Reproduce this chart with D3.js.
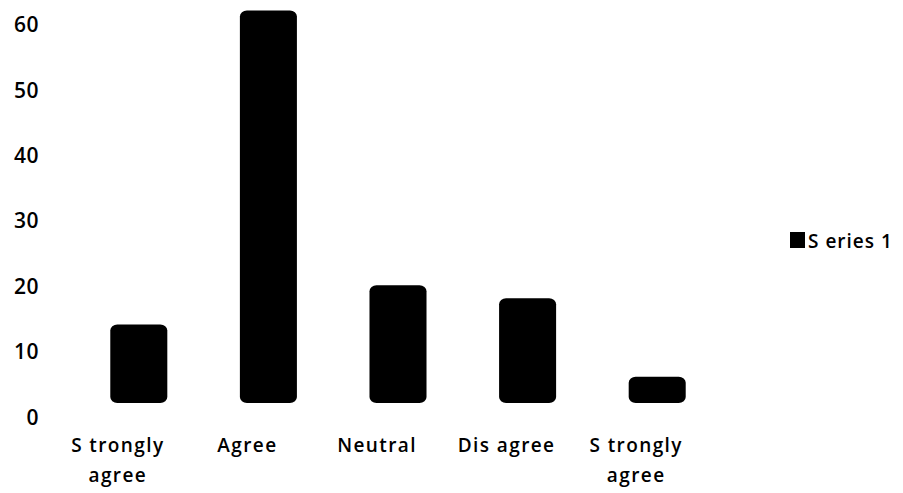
<!DOCTYPE html>
<html><head><meta charset="utf-8">
<script src="https://cdn.jsdelivr.net/npm/d3@7/dist/d3.min.js"></script>
<style>body{margin:0;background:#fff}svg{display:block}text{font-family:"Open Sans",sans-serif;fill:#000;font-weight:600}</style>
</head><body>
<svg id="c" width="903" height="493"></svg>
<script>
const categories = [["S trongly","agree"],["Agree"],["Neutral"],["Dis agree"],["S trongly","agree"]];
const values = [12, 60, 18, 16, 4];
const yTicks = [0, 10, 20, 30, 40, 50, 60];
const seriesName = "S eries 1";

const svg = d3.select("#c");
const x = d3.scaleBand().domain(d3.range(values.length)).range([74, 722]).paddingInner(0.56).paddingOuter(0.28);
const y = d3.scaleLinear().domain([0, 60]).range([417, 24.6]);
const depth = 14;

svg.append("g").selectAll("text").data(yTicks).join("text")
  .attr("x", 39).attr("y", d => y(d) + 7.5).attr("text-anchor", "end")
  .attr("font-size", 21).attr("letter-spacing", 0.5).text(d => d);

svg.append("g").selectAll("rect").data(values).join("rect")
  .attr("x", (d, i) => x(i)).attr("width", x.bandwidth())
  .attr("y", d => y(d) - depth).attr("height", d => y(0) - y(d))
  .attr("rx", 7).attr("ry", 6).attr("fill", "#000");

const lab = svg.append("g").selectAll("text").data(categories).join("text")
  .attr("text-anchor", "middle").attr("font-size", 19).attr("letter-spacing", 1.4)
  .attr("transform", (d, i) => `translate(${x(i) + x.bandwidth() / 2 - 21},452)`);
lab.selectAll("tspan").data(d => d).join("tspan")
  .attr("x", 0).attr("y", (d, j) => j * 30).text(d => d);

svg.append("rect").attr("x", 790).attr("y", 232).attr("width", 15).attr("height", 16).attr("fill", "#000");
svg.append("text").attr("x", 808).attr("y", 248).attr("font-size", 19).attr("letter-spacing", 1).text(seriesName);
</script>
</body></html>
